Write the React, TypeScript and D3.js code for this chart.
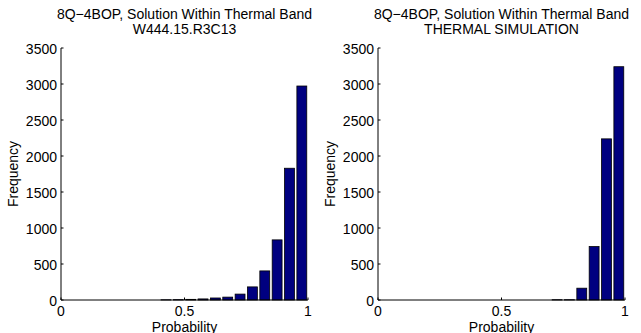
import React from "react";
import * as d3 from "d3";

const binCenters = [0.025, 0.075, 0.125, 0.175, 0.225, 0.275, 0.325, 0.375, 0.425, 0.475, 0.525, 0.575, 0.625, 0.675, 0.725, 0.775, 0.825, 0.875, 0.925, 0.975];
const leftCounts = [0, 0, 0, 0, 0, 0, 0, 0, 3, 5, 9, 15, 28, 40, 82, 182, 404, 835, 1830, 2972];
const rightCounts = [0, 0, 0, 0, 0, 0, 0, 0, 0, 0, 0, 0, 0, 0, 4, 4, 164, 742, 2238, 3240];
const yTicks = [0, 500, 1000, 1500, 2000, 2500, 3000, 3500];
const xTicks = [0, 0.5, 1];
const xTickLabels = ["0", "0.5", "1"];
const titleLine1 = "8Q\u22124BOP, Solution Within Thermal Band";
const leftSubtitle = "W444.15.R3C13";
const rightSubtitle = "THERMAL SIMULATION";

const FONT = "'Liberation Sans', Arial, Helvetica, sans-serif";
const FS = 14;

function Panel({ x0, counts, subtitle }: { x0: number; counts: number[]; subtitle: string }) {
  const x = d3.scaleLinear().domain([0, 1]).range([x0, x0 + 247]);
  const y = d3.scaleLinear().domain([0, 3500]).range([300, 48]);
  const binW = 0.05 * 0.8;
  const cx = (x0 + x0 + 247) / 2;
  const tl = 2.5;
  return (
    <g fontFamily={FONT} fontSize={FS} fill="#000">
      <text x={cx} y={19} textAnchor="middle">{titleLine1}</text>
      <text x={cx} y={34} textAnchor="middle">{subtitle}</text>
      {counts.map((c, i) => (
        <rect
          key={i}
          x={x(binCenters[i] - binW / 2)}
          y={y(c)}
          width={x(binW) - x(0)}
          height={y(0) - y(c)}
          fill="#000080"
          stroke="#000"
          strokeWidth={0.8}
        />
      ))}
      <line x1={x(0)} x2={x(0)} y1={y(3500)} y2={y(0)} stroke="#000" />
      <line x1={x(0)} x2={x(1)} y1={y(0)} y2={y(0)} stroke="#000" />
      {yTicks.map((t) => (
        <g key={t}>
          <line x1={x(0)} x2={x(0) + tl} y1={y(t)} y2={y(t)} stroke="#000" />
          <text x={x(0) - 4} y={y(t) + 5.5} textAnchor="end">{t}</text>
        </g>
      ))}
      {xTicks.map((t, i) => (
        <g key={t}>
          <line x1={x(t)} x2={x(t)} y1={y(0)} y2={y(0) - tl} stroke="#000" />
          <text x={x(t)} y={315.5} textAnchor="middle">{xTickLabels[i]}</text>
        </g>
      ))}
      <text x={cx} y={331.5} textAnchor="middle">Probability</text>
      <text transform={`translate(${x0 - 43},174) rotate(-90)`} textAnchor="middle">Frequency</text>
    </g>
  );
}

export default function App() {
  return (
    <svg width={641} height={333} style={{ position: "absolute", left: 0, top: 0, background: "#fff" }}>
      <rect width={641} height={333} fill="#fff" />
      <Panel x0={61} counts={leftCounts} subtitle={leftSubtitle} />
      <Panel x0={378} counts={rightCounts} subtitle={rightSubtitle} />
    </svg>
  );
}
